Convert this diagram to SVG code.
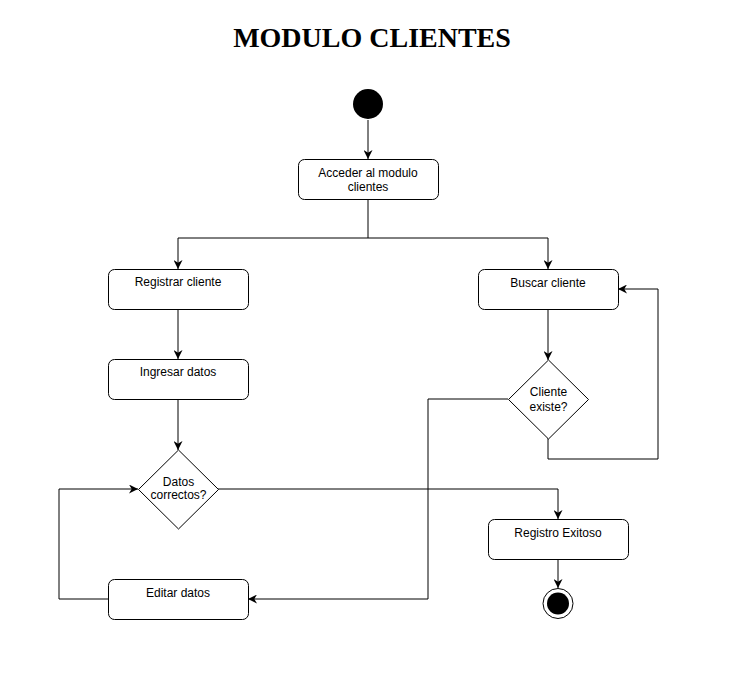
<svg xmlns="http://www.w3.org/2000/svg" width="746" height="685" viewBox="0 0 746 685">
<style>
.box{fill:#fff;stroke:#000;stroke-width:1}
.t{font-family:"Liberation Sans",Arial,sans-serif;font-size:12px;fill:#000;text-anchor:middle}
.c{fill:none;stroke:#000;stroke-width:1}
</style>
<defs>
<marker id="a" viewBox="0 0 10 10" refX="10" refY="5" markerWidth="9" markerHeight="9" markerUnits="userSpaceOnUse" orient="auto">
<path d="M0,0 L10,5 L0,10 L3,5 Z" fill="#000"/>
</marker>
</defs>
<rect width="746" height="685" fill="#fff"/>
<text x="372" y="47" font-family="Liberation Serif,'Times New Roman',serif" font-size="28" font-weight="bold" text-anchor="middle" fill="#000">MODULO CLIENTES</text>
<g id="connectors">
<path class="c" d="M368,120 L368,159" marker-end="url(#a)"/>
<path class="c" d="M368,199 L368,238 L178,238 L178,269" marker-end="url(#a)"/>
<path class="c" d="M368,238 L548,238 L548,269" marker-end="url(#a)"/>
<path class="c" d="M178,309 L178,359" marker-end="url(#a)"/>
<path class="c" d="M178,399 L178,450" marker-end="url(#a)"/>
<path class="c" d="M108,599 L59,599 L59,489 L138,489" marker-end="url(#a)"/>
<path class="c" d="M218,489 L558,489 L558,519" marker-end="url(#a)"/>
<path class="c" d="M548,309 L548,360" marker-end="url(#a)"/>
<path class="c" d="M548,438 L548,459 L658,459 L658,289 L618,289" marker-end="url(#a)"/>
<path class="c" d="M508,399 L428,399 L428,599 L248,599" marker-end="url(#a)"/>
<path class="c" d="M558,559 L558,588" marker-end="url(#a)"/>
</g>
<g id="start"><circle cx="368" cy="104" r="15" fill="#000"/></g>
<g id="acceder"><rect class="box" x="298.5" y="159.5" width="140" height="40" rx="6"/><text class="t" x="368" y="177">Acceder al modulo</text><text class="t" x="368" y="191">clientes</text></g>
<g id="registrar"><rect class="box" x="108.5" y="269.5" width="140" height="40" rx="6"/><text class="t" x="178" y="286">Registrar cliente</text></g>
<g id="buscar"><rect class="box" x="478.5" y="269.5" width="140" height="40" rx="6"/><text class="t" x="548" y="287">Buscar cliente</text></g>
<g id="ingresar"><rect class="box" x="108.5" y="359.5" width="140" height="40" rx="6"/><text class="t" x="178" y="376">Ingresar datos</text></g>
<g id="datos"><path class="box" d="M178.5,450 L218.5,489.5 L178.5,529 L138.5,489.5 Z"/><text class="t" x="178.5" y="486">Datos</text><text class="t" x="178.5" y="499">correctos?</text></g>
<g id="cliente"><path class="box" d="M548.5,360 L588.5,399.5 L548.5,439 L508.5,399.5 Z"/><text class="t" x="548.5" y="396">Cliente</text><text class="t" x="548.5" y="411">existe?</text></g>
<g id="editar"><rect class="box" x="108.5" y="579.5" width="140" height="40" rx="6"/><text class="t" x="178" y="597">Editar datos</text></g>
<g id="registro"><rect class="box" x="488.5" y="519.5" width="140" height="40" rx="6"/><text class="t" x="558" y="537">Registro Exitoso</text></g>
<g id="end"><circle cx="558" cy="603.5" r="15" fill="#fff" stroke="#000" stroke-width="1"/><circle cx="558" cy="603.5" r="11" fill="#000"/></g>
</svg>
